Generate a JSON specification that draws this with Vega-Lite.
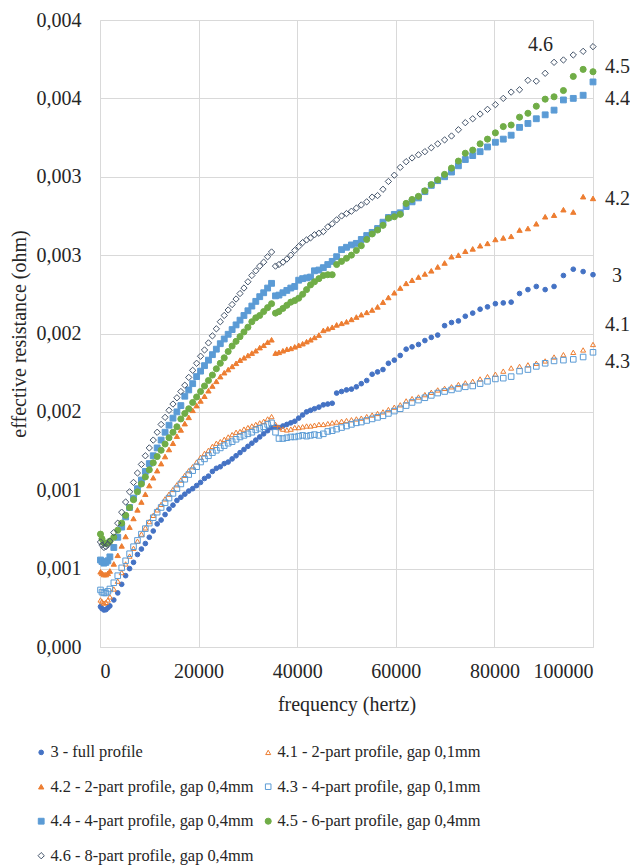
{
"$schema": "https://vega.github.io/schema/vega-lite/v6.json",
"width": 493, "height": 627,
"autosize": "none",
"padding": {"left": 100, "top": 20, "right": 37, "bottom": 221},
"background": "white",
"config": {"view": {"stroke": null}, "font": "Liberation Serif",
 "legend": {"orient": "none", "legendX": -67, "legendY": 724, "direction": "horizontal", "columns": 2, "padding": 0, "symbolStrokeWidth": 1, "labelFontSize": 16.4, "labelFont": "Liberation Serif", "labelColor": "#262626", "labelLimit": 400, "labelOffset": 1, "rowPadding": 17.5, "columnPadding": 6}},
"datasets": {
"names": [
{"k":"a","series":"3 - full profile"},
{"k":"b","series":"4.1 - 2-part profile, gap 0,1mm"},
{"k":"c","series":"4.2 - 2-part profile, gap 0,4mm"},
{"k":"d","series":"4.3 - 4-part profile, gap 0,1mm"},
{"k":"e","series":"4.4 - 4-part profile, gap 0,4mm"},
{"k":"g","series":"4.5 - 6-part profile, gap 0,4mm"},
{"k":"h","series":"4.6 - 8-part profile, gap 0,4mm"}],
"labels": [
{"t":"4.6","f":86800,"r":0.00384},
{"t":"4.5","f":102430,"r":0.0037},
{"t":"4.4","f":102430,"r":0.003496},
{"t":"4.2","f":102430,"r":0.002861},
{"t":"3","f":103850,"r":0.002367},
{"t":"4.1","f":102430,"r":0.002054},
{"t":"4.3","f":102430,"r":0.001818}]
},
"encoding": {
"x": {"field": "f", "type": "quantitative", "scale": {"domain": [0, 100000], "nice": false},
 "axis": {"values": [0,20000,40000,60000,80000,100000], "format": "d", "title": "frequency (hertz)", "grid": true, "gridColor": "#D9D9D9", "domainColor": "#D9D9D9", "ticks": false, "labelFontSize": 20, "labelPadding": 14, "labelColor": "#262626", "labelFont": "Liberation Serif", "titleFont": "Liberation Serif", "titleFontSize": 20, "titleFontWeight": "normal", "titleColor": "#262626", "titlePadding": 13}},
"y": {"field": "r", "type": "quantitative", "scale": {"domain": [0, 0.004], "nice": false},
 "axis": {"values": [0,0.0005,0.001,0.0015,0.002,0.0025,0.003,0.0035,0.004], "labelExpr": "replace(format(datum.value, '.3f'), '.', ',')", "title": "effective resistance (ohm)", "grid": true, "gridColor": "#D9D9D9", "domainColor": "#D9D9D9", "ticks": false, "labelFontSize": 20, "labelPadding": 19, "labelColor": "#262626", "labelFont": "Liberation Serif", "titleFont": "Liberation Serif", "titleFontSize": 20, "titleFontWeight": "normal", "titleColor": "#262626", "titlePadding": 7}}
},
"layer": [
{
"data": {"values": [
{"f":100,"a":0.000257,"b":0.0003,"c":0.00048,"d":0.000364,"e":0.000555,"g":0.00072,"h":0.00067},
{"f":400,"a":0.000245,"b":0.00029,"c":0.00047,"d":0.00035,"e":0.000545,"g":0.00069,"h":0.00065},
{"f":800,"a":0.000236,"b":0.00028,"c":0.000462,"d":0.000345,"e":0.000535,"g":0.000665,"h":0.000635},
{"f":1200,"a":0.000238,"b":0.000285,"c":0.000462,"d":0.000345,"e":0.00054,"g":0.00066,"h":0.00064},
{"f":1600,"a":0.00025,"b":0.0003,"c":0.00047,"d":0.000355,"e":0.00055,"g":0.000665,"h":0.000655},
{"f":2000,"a":0.000262,"b":0.00032,"c":0.000485,"d":0.00037,"e":0.000575,"g":0.000675,"h":0.000675},
{"f":2800,"a":0.0003,"b":0.00037,"c":0.00053,"d":0.00041,"e":0.000635,"g":0.0007,"h":0.00073},
{"f":3600,"a":0.000345,"b":0.00042,"c":0.000585,"d":0.000455,"e":0.0007,"g":0.000745,"h":0.00079},
{"f":4400,"a":0.0004,"b":0.000475,"c":0.000645,"d":0.000505,"e":0.000765,"g":0.00079,"h":0.00086},
{"f":5200,"a":0.000455,"b":0.00053,"c":0.000705,"d":0.00055,"e":0.00083,"g":0.00084,"h":0.000925},
{"f":6000,"a":0.0005,"b":0.00058,"c":0.000765,"d":0.000595,"e":0.00089,"g":0.00089,"h":0.00099},
{"f":6800,"a":0.00054,"b":0.00063,"c":0.00082,"d":0.00064,"e":0.00095,"g":0.00094,"h":0.00105},
{"f":7600,"a":0.00059,"b":0.000675,"c":0.000875,"d":0.00068,"e":0.00101,"g":0.00099,"h":0.00111},
{"f":8400,"a":0.000625,"b":0.00072,"c":0.000925,"d":0.00072,"e":0.001065,"g":0.00104,"h":0.001165},
{"f":9200,"a":0.00066,"b":0.00076,"c":0.000975,"d":0.000755,"e":0.00112,"g":0.001085,"h":0.00122},
{"f":10000,"a":0.0007,"b":0.0008,"c":0.00103,"d":0.00079,"e":0.00117,"g":0.00113,"h":0.00127},
{"f":10800,"a":0.00074,"b":0.00084,"c":0.00108,"d":0.000825,"e":0.00122,"g":0.001175,"h":0.00132},
{"f":11600,"a":0.000785,"b":0.000875,"c":0.001125,"d":0.00086,"e":0.00127,"g":0.001215,"h":0.00137},
{"f":12400,"a":0.00081,"b":0.00091,"c":0.00117,"d":0.00089,"e":0.00132,"g":0.001255,"h":0.00142},
{"f":13200,"a":0.000845,"b":0.000945,"c":0.001215,"d":0.00092,"e":0.00137,"g":0.001295,"h":0.001465},
{"f":14000,"a":0.00088,"b":0.000975,"c":0.00126,"d":0.00095,"e":0.001415,"g":0.001335,"h":0.00151},
{"f":14800,"a":0.000905,"b":0.001005,"c":0.0013,"d":0.00098,"e":0.00146,"g":0.00137,"h":0.00155},
{"f":15600,"a":0.000935,"b":0.001035,"c":0.001345,"d":0.00101,"e":0.0015,"g":0.001405,"h":0.00159},
{"f":16400,"a":0.000955,"b":0.001065,"c":0.001385,"d":0.00104,"e":0.00154,"g":0.001455,"h":0.00163},
{"f":17200,"a":0.000975,"b":0.001095,"c":0.001425,"d":0.00107,"e":0.0016,"g":0.00149,"h":0.00167},
{"f":18000,"a":0.000995,"b":0.001125,"c":0.001465,"d":0.0011,"e":0.00164,"g":0.00152,"h":0.00172},
{"f":18800,"a":0.00101,"b":0.00115,"c":0.00151,"d":0.001125,"e":0.00168,"g":0.00156,"h":0.001765},
{"f":19600,"a":0.00103,"b":0.00118,"c":0.00154,"d":0.00115,"e":0.001725,"g":0.001595,"h":0.00181},
{"f":20400,"a":0.00105,"b":0.00121,"c":0.00157,"d":0.00118,"e":0.00176,"g":0.00163,"h":0.001855},
{"f":21200,"a":0.001075,"b":0.001235,"c":0.0016,"d":0.0012,"e":0.001795,"g":0.001665,"h":0.001895},
{"f":22000,"a":0.00109,"b":0.001255,"c":0.001635,"d":0.00122,"e":0.00183,"g":0.0017,"h":0.00194},
{"f":22800,"a":0.00112,"b":0.00128,"c":0.001665,"d":0.00124,"e":0.001865,"g":0.001735,"h":0.001985},
{"f":23600,"a":0.00114,"b":0.0013,"c":0.001695,"d":0.001255,"e":0.0019,"g":0.001775,"h":0.00203},
{"f":24400,"a":0.00115,"b":0.00131,"c":0.001725,"d":0.00127,"e":0.001935,"g":0.00181,"h":0.002075},
{"f":25200,"a":0.00117,"b":0.001325,"c":0.00175,"d":0.001285,"e":0.001965,"g":0.001845,"h":0.002115},
{"f":26000,"a":0.00118,"b":0.00134,"c":0.00177,"d":0.0013,"e":0.001995,"g":0.001885,"h":0.00215},
{"f":26800,"a":0.0012,"b":0.001355,"c":0.00179,"d":0.00131,"e":0.002025,"g":0.00192,"h":0.002185},
{"f":27600,"a":0.00122,"b":0.00137,"c":0.00181,"d":0.001325,"e":0.002055,"g":0.00195,"h":0.00222},
{"f":28400,"a":0.00124,"b":0.001375,"c":0.00183,"d":0.00134,"e":0.002085,"g":0.00198,"h":0.002255},
{"f":29200,"a":0.00126,"b":0.00139,"c":0.001845,"d":0.00135,"e":0.002115,"g":0.00201,"h":0.00229},
{"f":30000,"a":0.00128,"b":0.0014,"c":0.00186,"d":0.00136,"e":0.002145,"g":0.00204,"h":0.00233},
{"f":30800,"a":0.0013,"b":0.00141,"c":0.001875,"d":0.00137,"e":0.002175,"g":0.002075,"h":0.00237},
{"f":31600,"a":0.00132,"b":0.00142,"c":0.00189,"d":0.001385,"e":0.002205,"g":0.0021,"h":0.0024},
{"f":32400,"a":0.00134,"b":0.00143,"c":0.00191,"d":0.001395,"e":0.002235,"g":0.002115,"h":0.00243},
{"f":33200,"a":0.00136,"b":0.00144,"c":0.001925,"d":0.001405,"e":0.00226,"g":0.00214,"h":0.002455},
{"f":34000,"a":0.00138,"b":0.001455,"c":0.001945,"d":0.00142,"e":0.00229,"g":0.002165,"h":0.00249},
{"f":34800,"a":0.0014,"b":0.00147,"c":0.00196,"d":0.00143,"e":0.00232,"g":0.00219,"h":0.00252},
{"f":35600,"a":0.001405,"b":0.00142,"c":0.001875,"d":0.00137,"e":0.00224,"g":0.00213,"h":0.00243},
{"f":36300,"a":0.0014,"b":0.0014,"c":0.00188,"d":0.00133,"e":0.002245,"g":0.00214,"h":0.00244},
{"f":37100,"a":0.00141,"b":0.00139,"c":0.00189,"d":0.00133,"e":0.00226,"g":0.00216,"h":0.002455},
{"f":37900,"a":0.00142,"b":0.001385,"c":0.0019,"d":0.001335,"e":0.002275,"g":0.00218,"h":0.002475},
{"f":38700,"a":0.00143,"b":0.00139,"c":0.001905,"d":0.00134,"e":0.00229,"g":0.0022,"h":0.0025},
{"f":39500,"a":0.00144,"b":0.0014,"c":0.001915,"d":0.00134,"e":0.0023,"g":0.00221,"h":0.00253},
{"f":40300,"a":0.00146,"b":0.0014,"c":0.001925,"d":0.001345,"e":0.00234,"g":0.002225,"h":0.002555},
{"f":41100,"a":0.00148,"b":0.001405,"c":0.001935,"d":0.00135,"e":0.00235,"g":0.00225,"h":0.00258},
{"f":41900,"a":0.0015,"b":0.00141,"c":0.001948,"d":0.001345,"e":0.002355,"g":0.00228,"h":0.002597},
{"f":42700,"a":0.00151,"b":0.00141,"c":0.00196,"d":0.00135,"e":0.00236,"g":0.00231,"h":0.00261},
{"f":43500,"a":0.00152,"b":0.001415,"c":0.001975,"d":0.001355,"e":0.0024,"g":0.00233,"h":0.00263},
{"f":44400,"a":0.00153,"b":0.00142,"c":0.00199,"d":0.00135,"e":0.002405,"g":0.00235,"h":0.00264},
{"f":45300,"a":0.001545,"b":0.00142,"c":0.00202,"d":0.00136,"e":0.00242,"g":0.00237,"h":0.00265},
{"f":46200,"a":0.00155,"b":0.001425,"c":0.00203,"d":0.001375,"e":0.00244,"g":0.002375,"h":0.00268},
{"f":47100,"a":0.001555,"b":0.00143,"c":0.00204,"d":0.00138,"e":0.00246,"g":0.002375,"h":0.0027},
{"f":48000,"a":0.00162,"b":0.001435,"c":0.002055,"d":0.00139,"e":0.00249,"g":0.00244,"h":0.002725},
{"f":49000,"a":0.00163,"b":0.00144,"c":0.002065,"d":0.0014,"e":0.002535,"g":0.00246,"h":0.00275},
{"f":50000,"a":0.00164,"b":0.001445,"c":0.002075,"d":0.00141,"e":0.00255,"g":0.00248,"h":0.002765},
{"f":51000,"a":0.001645,"b":0.00145,"c":0.00209,"d":0.00142,"e":0.002565,"g":0.0025,"h":0.00278},
{"f":52000,"a":0.00166,"b":0.001455,"c":0.002105,"d":0.00143,"e":0.002575,"g":0.00253,"h":0.0028},
{"f":53000,"a":0.00168,"b":0.00146,"c":0.00212,"d":0.001435,"e":0.0026,"g":0.00256,"h":0.00282},
{"f":54100,"a":0.0017,"b":0.00147,"c":0.002135,"d":0.001445,"e":0.002625,"g":0.0026,"h":0.00284},
{"f":55200,"a":0.00174,"b":0.00148,"c":0.00215,"d":0.001455,"e":0.002645,"g":0.002635,"h":0.00287},
{"f":56300,"a":0.001755,"b":0.00149,"c":0.00217,"d":0.001465,"e":0.00267,"g":0.00266,"h":0.00288},
{"f":57400,"a":0.00177,"b":0.0015,"c":0.0022,"d":0.001475,"e":0.00271,"g":0.00269,"h":0.00292},
{"f":58500,"a":0.00181,"b":0.001515,"c":0.00223,"d":0.00149,"e":0.00274,"g":0.002735,"h":0.00297},
{"f":59700,"a":0.00183,"b":0.00153,"c":0.00226,"d":0.001505,"e":0.00276,"g":0.002745,"h":0.00301},
{"f":60900,"a":0.00186,"b":0.001545,"c":0.00229,"d":0.00152,"e":0.00277,"g":0.00276,"h":0.00306},
{"f":62100,"a":0.0019,"b":0.00157,"c":0.00232,"d":0.00154,"e":0.00281,"g":0.00283,"h":0.003096},
{"f":63300,"a":0.001915,"b":0.001585,"c":0.00234,"d":0.00156,"e":0.00284,"g":0.002855,"h":0.00312},
{"f":64600,"a":0.00193,"b":0.001595,"c":0.00236,"d":0.001575,"e":0.002865,"g":0.002875,"h":0.00314},
{"f":65900,"a":0.001955,"b":0.00161,"c":0.00238,"d":0.00159,"e":0.002905,"g":0.00291,"h":0.00316},
{"f":67200,"a":0.001975,"b":0.001625,"c":0.0024,"d":0.001605,"e":0.002945,"g":0.00295,"h":0.003185},
{"f":68500,"a":0.00199,"b":0.00164,"c":0.002425,"d":0.00162,"e":0.002975,"g":0.00298,"h":0.00321},
{"f":69900,"a":0.00205,"b":0.00165,"c":0.00245,"d":0.00163,"e":0.003,"g":0.003015,"h":0.003235},
{"f":71300,"a":0.00207,"b":0.00166,"c":0.00249,"d":0.00164,"e":0.00303,"g":0.003055,"h":0.00326},
{"f":72700,"a":0.00208,"b":0.001675,"c":0.0025,"d":0.00165,"e":0.00307,"g":0.0031,"h":0.0033},
{"f":74100,"a":0.00211,"b":0.001685,"c":0.002525,"d":0.00166,"e":0.00311,"g":0.00315,"h":0.003345},
{"f":75600,"a":0.00213,"b":0.001695,"c":0.00254,"d":0.001665,"e":0.003135,"g":0.00317,"h":0.00337},
{"f":77100,"a":0.002155,"b":0.00171,"c":0.00256,"d":0.00168,"e":0.00316,"g":0.00321,"h":0.0034},
{"f":78600,"a":0.00217,"b":0.001725,"c":0.002575,"d":0.001695,"e":0.00319,"g":0.00324,"h":0.00343},
{"f":80200,"a":0.00219,"b":0.00174,"c":0.0026,"d":0.00171,"e":0.00322,"g":0.00328,"h":0.00346},
{"f":81800,"a":0.002195,"b":0.00176,"c":0.00261,"d":0.001715,"e":0.00324,"g":0.00332,"h":0.0035},
{"f":83400,"a":0.0022,"b":0.00178,"c":0.00262,"d":0.001725,"e":0.003265,"g":0.00333,"h":0.00354},
{"f":85100,"a":0.002255,"b":0.00179,"c":0.00266,"d":0.00176,"e":0.003315,"g":0.00338,"h":0.003555},
{"f":86800,"a":0.00228,"b":0.0018,"c":0.00267,"d":0.00177,"e":0.00334,"g":0.003405,"h":0.003615},
{"f":88500,"a":0.0023,"b":0.00181,"c":0.0027,"d":0.00179,"e":0.00337,"g":0.00345,"h":0.00361},
{"f":90300,"a":0.00228,"b":0.001825,"c":0.002745,"d":0.00181,"e":0.003395,"g":0.003495,"h":0.00366},
{"f":92100,"a":0.0023,"b":0.00185,"c":0.002755,"d":0.001825,"e":0.003425,"g":0.00351,"h":0.00373},
{"f":94000,"a":0.00237,"b":0.001865,"c":0.00279,"d":0.00183,"e":0.00349,"g":0.00355,"h":0.003745},
{"f":96000,"a":0.00241,"b":0.00188,"c":0.002775,"d":0.001835,"e":0.0035,"g":0.00364,"h":0.003777},
{"f":98000,"a":0.002395,"b":0.001895,"c":0.002873,"d":0.00185,"e":0.00352,"g":0.003685,"h":0.0038},
{"f":100000,"a":0.002375,"b":0.00193,"c":0.002862,"d":0.00188,"e":0.003605,"g":0.00367,"h":0.00383}
]},
"transform": [
{"fold": ["a","b","c","d","e","g","h"], "as": ["k","r"]},
{"lookup": "k", "from": {"data": {"name": "names"}, "key": "k", "fields": ["series"]}}
],
"mark": {"type": "point", "opacity": 1, "strokeWidth": 1},
"encoding": {
"stroke": {"field": "series", "type": "nominal",
 "scale": {"domain": ["3 - full profile","4.1 - 2-part profile, gap 0,1mm","4.2 - 2-part profile, gap 0,4mm","4.3 - 4-part profile, gap 0,1mm","4.4 - 4-part profile, gap 0,4mm","4.5 - 6-part profile, gap 0,4mm","4.6 - 8-part profile, gap 0,4mm"],
  "range": ["#4472C4","#ED7D31","#ED7D31","#5B9BD5","#5B9BD5","#70AD47","#44546A"]},
 "legend": {"title": null}},
"fill": {"field": "series", "type": "nominal",
 "scale": {"domain": ["3 - full profile","4.1 - 2-part profile, gap 0,1mm","4.2 - 2-part profile, gap 0,4mm","4.3 - 4-part profile, gap 0,1mm","4.4 - 4-part profile, gap 0,4mm","4.5 - 6-part profile, gap 0,4mm","4.6 - 8-part profile, gap 0,4mm"],
  "range": ["#4472C4","transparent","#ED7D31","transparent","#5B9BD5","#70AD47","transparent"]},
 "legend": {"title": null}},
"shape": {"field": "series", "type": "nominal",
 "scale": {"domain": ["3 - full profile","4.1 - 2-part profile, gap 0,1mm","4.2 - 2-part profile, gap 0,4mm","4.3 - 4-part profile, gap 0,1mm","4.4 - 4-part profile, gap 0,4mm","4.5 - 6-part profile, gap 0,4mm","4.6 - 8-part profile, gap 0,4mm"],
  "range": ["circle","triangle-up","triangle-up","square","square","circle","diamond"]},
 "legend": {"title": null}},
"size": {"field": "series", "type": "nominal",
 "scale": {"domain": ["3 - full profile","4.1 - 2-part profile, gap 0,1mm","4.2 - 2-part profile, gap 0,4mm","4.3 - 4-part profile, gap 0,1mm","4.4 - 4-part profile, gap 0,4mm","4.5 - 6-part profile, gap 0,4mm","4.6 - 8-part profile, gap 0,4mm"],
  "range": [22, 40, 36, 30, 28, 24, 36]},
 "legend": {"title": null}},
"order": {"field": "k"}
}
},
{
"data": {"name": "labels"},
"mark": {"type": "text", "fontSize": 20, "font": "Liberation Serif", "color": "#262626", "align": "left", "baseline": "middle"},
"encoding": {"text": {"field": "t"}}
}
]
}
